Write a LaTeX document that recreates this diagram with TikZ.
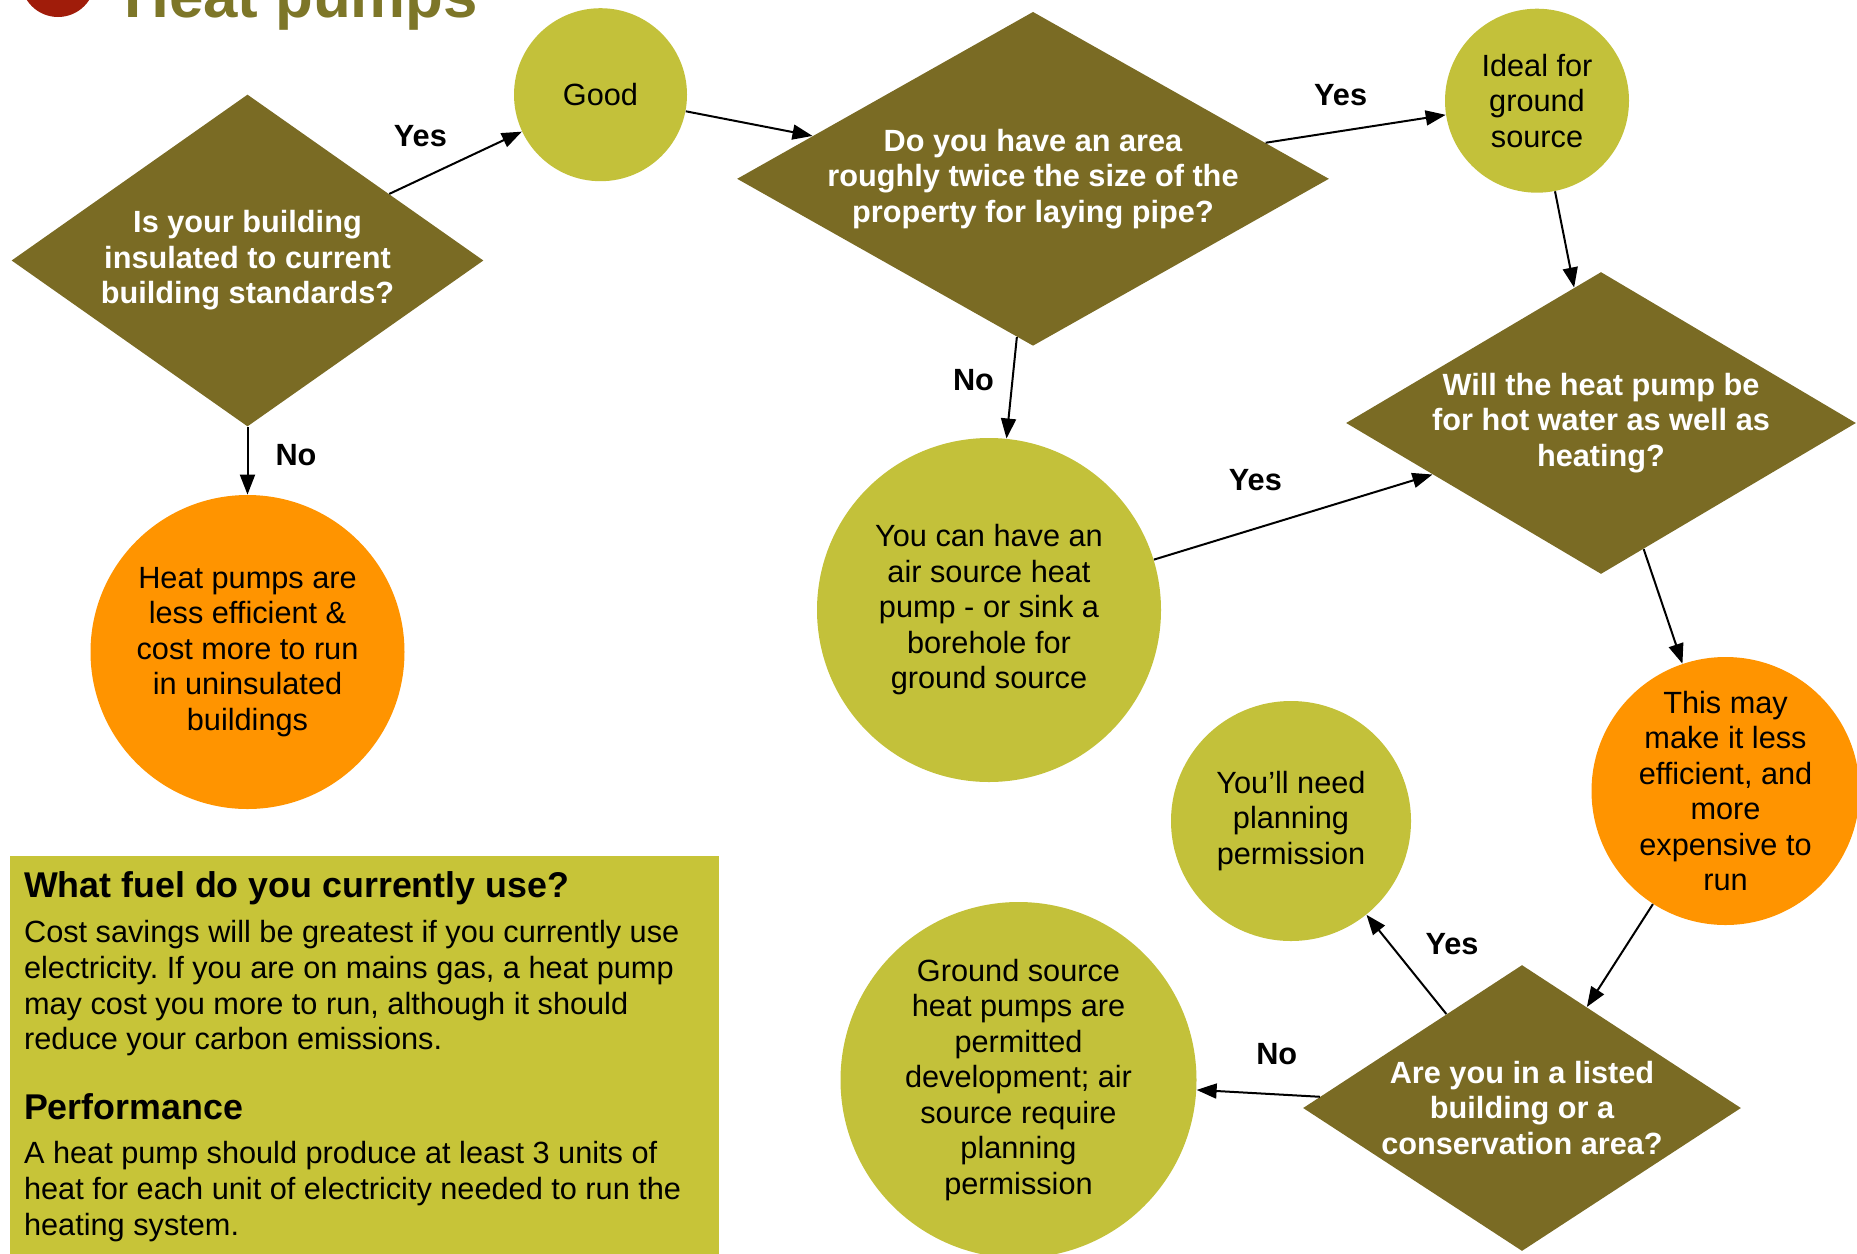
\documentclass[tikz,border=0pt]{standalone}
\usepackage{fontspec}
\setmainfont{Liberation Sans}
\usetikzlibrary{shapes.geometric, arrows.meta}
\frenchspacing

\definecolor{qolive}{RGB}{122,107,36}
\definecolor{leaf}{RGB}{195,193,58}
\definecolor{amber}{RGB}{255,148,0}
\definecolor{boxgreen}{RGB}{199,196,56}
\definecolor{titleolive}{RGB}{125,118,40}
\definecolor{titlered}{RGB}{160,28,10}

\begin{document}
\begin{tikzpicture}
        [x=0.5pt, y=-0.5pt,
        question/.style={diamond, fill=qolive, inner sep=0pt},
        qtext/.style={text=white, align=center, font=\bfseries\fontsize{15.35}{17.75}\selectfont},
        answer/.style={circle, fill=leaf, inner sep=0pt, align=center, font=\fontsize{15.35}{17.75}\selectfont},
        warning/.style={answer, fill=amber},
        choice/.style={inner sep=0pt, font=\bfseries\fontsize{15.35}{17.75}\selectfont},
        arrow/.style={line width=1pt, black, -{Triangle[length=10pt, width=7.5pt]}},
        boxhead/.style={inner sep=0pt, anchor=base west, font=\bfseries\fontsize{17.9}{20}\selectfont},
        boxtext/.style={inner sep=0pt, anchor=north west, align=left, font=\fontsize{15.35}{17.95}\selectfont}]

        % page frame, the title is cut by the top edge
        \useasboundingbox (0,0) rectangle (1857,1253);
        \clip (0,0) rectangle (1857,1253);

        % title
        \fill[titlered] (58,-20) circle (37);
        \node[inner sep=0pt, anchor=base west, text=titleolive, font=\bfseries\fontsize{30.9}{34}\selectfont] (title) at (124,17) {Heat pumps};

        % questions
        \node[question, minimum width=236pt, minimum height=166pt,
              label={[qtext]center:Is your building\\insulated to current\\building standards?}] (q1) at (247.5,260.5) {};
        \node[question, minimum width=296pt, minimum height=167pt,
              label={[qtext]center:Do you have an area\\roughly twice the size of the\\property for laying pipe?}] (q2) at (1033,178.8) {};
        \node[question, minimum width=255pt, minimum height=151pt,
              label={[qtext]center:Will the heat pump be\\for hot water as well as\\heating?}] (q3) at (1601,423) {};
        \node[question, minimum width=219pt, minimum height=143pt,
              label={[qtext]center:Are you in a listed\\building or a\\conservation area?}] (q4) at (1522,1108) {};

        % answers
        \node[answer, minimum size=86.5pt] (good) at (600.5,94.7) {Good};
        \node[warning, minimum size=157pt] (uninsulated) at (247.5,652) {Heat pumps are\\less efficient \&\\cost more to run\\in uninsulated\\buildings};
        \node[answer, minimum size=92pt] (ideal) at (1537,100.7) {Ideal for\\ground\\source};
        \node[answer, minimum size=172pt] (air) at (989,610) {You can have an\\air source heat\\pump - or sink a\\borehole for\\ground source};
        \node[warning, minimum size=134pt] (costly) at (1725.5,791) {This may\\make it less\\efficient, and\\more\\expensive to\\run};
        \node[answer, minimum size=120pt] (planning) at (1291,821) {You'll need\\planning\\permission};
        \node[answer, minimum size=178pt] (permitted) at (1018.5,1080) {Ground source\\heat pumps are\\permitted\\development; air\\source require\\planning\\permission};

        % yes / no labels
        \node[choice] (yes1) at (420.4,136.2) {Yes};
        \node[choice] (no1) at (296,454.8) {No};
        \node[choice] (yes2) at (1340.6,94.7) {Yes};
        \node[choice] (no2) at (973.5,380) {No};
        \node[choice] (yes3) at (1255.4,479.6) {Yes};
        \node[choice] (yes4) at (1452,944) {Yes};
        \node[choice] (no4) at (1276.7,1054) {No};

        % connectors
        \draw[arrow] (q1) -- (good);
        \draw[arrow] (q1) -- (uninsulated);
        \draw[arrow] (good) -- (q2);
        \draw[arrow] (q2) -- (ideal);
        \draw[arrow] (q2) -- (air);
        \draw[arrow] (ideal) -- (q3);
        \draw[arrow] (air) -- (q3);
        \draw[arrow] (q3) -- (costly);
        \draw[arrow] (costly) -- (q4);
        \draw[arrow] (q4) -- (planning);
        \draw[arrow] (q4) -- (permitted);

        % info box
        \node[fill=boxgreen, inner sep=0pt, anchor=north west, minimum width=354.75pt, minimum height=205pt] (infobox) at (9.5,856) {};
        \node[boxhead] (fuelhead) at (23.7,897.6) {What fuel do you currently use?};
        \node[boxtext] (fueltext) at (23.7,919.6) {Cost savings will be greatest if you currently use\\electricity. If you are on mains gas, a heat pump\\may cost you more to run, although it should\\reduce your carbon emissions.};
        \node[boxhead] (perfhead) at (23.7,1119) {Performance};
        \node[boxtext] (perftext) at (23.7,1140.6) {A heat pump should produce at least 3 units of\\heat for each unit of electricity needed to run the\\heating system.};

\end{tikzpicture}
\end{document}
